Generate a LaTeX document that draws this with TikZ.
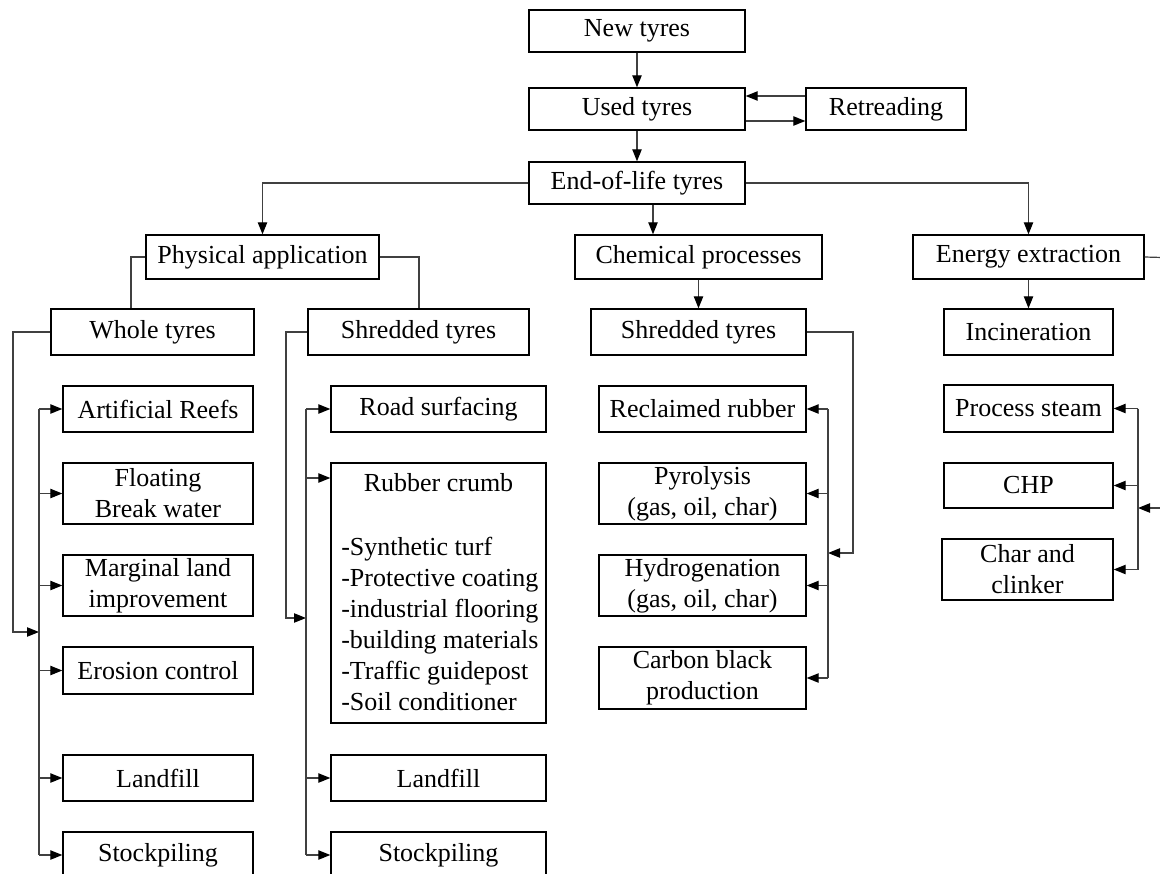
\documentclass[tikz,border=0pt]{standalone}
\usepackage{fontspec}
\setmainfont{Liberation Serif}
\usetikzlibrary{arrows.meta}
\tikzset{
  box/.style={draw=black, line width=1pt, inner sep=0pt, align=center, fill=white},
  conn/.style={draw=black!75, line width=0.9pt},
  arr/.style={conn, -{Triangle[length=9pt,width=7pt,color=black]}},
  txt/.style={inner sep=0pt, align=left}
}
\newcommand\bx[6]{\node[box, minimum width={(#4-#2)*0.75pt}, minimum height={(#5-#3)*0.75pt}] (#1) at ({(#2+#4)/2},{(#3+#5)/2}) {#6};}
\begin{document}
\begin{tikzpicture}[x=0.75pt,y=-0.75pt,font=\fontsize{19.5}{23.25}\selectfont]
\clip (0,0) rectangle (1160,874);
\fill[white] (0,0) rectangle (1160,874);
% top
\bx{new}{529}{10}{745}{52}{New tyres}
\bx{used}{529}{88}{745}{130}{Used tyres}
\bx{retr}{806}{88}{966}{130}{Retreading}
\bx{eol}{529}{162}{745}{204}{End-of-life tyres}
% level 2
\bx{pa}{146}{235}{379}{279}{Physical application}
\bx{chem}{575}{235}{822}{279}{Chemical processes}
\bx{en}{913}{235}{1144}{279}{Energy extraction}
% level 3
\bx{whole}{51}{309}{254}{355}{Whole tyres}
\bx{shp}{308}{309}{529}{355}{Shredded tyres}
\bx{shc}{591}{309}{806}{355}{Shredded tyres}
\bx{inc}{944}{309}{1113}{355}{Incineration}
% whole tyres column
\bx{ar}{63}{386}{253}{432}{Artificial Reefs}
\bx{fb}{63}{463}{253}{524}{Floating\\Break water}
\bx{ml}{63}{555}{253}{616}{Marginal land\\improvement}
\bx{ec}{63}{647}{253}{694}{Erosion control}
\bx{lf1}{63}{755}{253}{801}{Landfill}
\bx{sp1}{63}{832}{253}{878}{Stockpiling}
% shredded tyres (physical) column
\bx{rs}{331}{386}{546}{432}{Road surfacing}
\bx{rc}{331}{463}{546}{723}{}
\node[txt] (rct) at (438.5,483) {Rubber crumb};
\node[txt, anchor=west] (rcl) at (341,623.5) {-Synthetic turf\\-Protective coating\\-industrial flooring\\-building materials\\-Traffic guidepost\\-Soil conditioner};
\bx{lf2}{331}{755}{546}{801}{Landfill}
\bx{sp2}{331}{832}{546}{878}{Stockpiling}
% chemical column
\bx{rr}{599}{386}{806}{432}{Reclaimed rubber}
\bx{py}{599}{463}{806}{524}{Pyrolysis\\(gas, oil, char)}
\bx{hy}{599}{555}{806}{616}{Hydrogenation\\(gas, oil, char)}
\bx{cb}{599}{647}{806}{709}{Carbon black\\production}
% energy column
\bx{ps}{944}{385}{1113}{432}{Process steam}
\bx{chp}{944}{463}{1113}{508}{CHP}
\bx{cc}{942}{539}{1113}{600}{Char and\\clinker}
% coordinates
\coordinate (wb) at (39,632);
\coordinate (sb) at (306,618);
\coordinate (cbus) at (828,553);
\coordinate (ebus) at (1138,508);
\coordinate (eout) at (1180,258);
% top connectors
\draw[arr] (new.south) -- (used.north);
\draw[arr] (used.south) -- (eol.north);
\draw[arr] (retr.west |- 0,96) -- (used.east |- 0,96);
\draw[arr] (used.east |- 0,121) -- (retr.west |- 0,121);
\draw[arr] (eol.west) -| (pa.north);
\draw[arr] (eol.east) -| (en.north);
\draw[arr] (eol.south -| 653,0) -- (chem.north -| 653,0);
\draw[arr] (chem.south) -- (shc.north);
\draw[arr] (en.south) -- (inc.north);
\draw[conn] (pa.west) -| (whole.north -| 131,0);
\draw[conn] (pa.east) -| (shp.north -| 419,0);
% whole tyres bus
\draw[arr] (whole.west) -| (13,632) -- (wb);
\draw[conn] (39,409) -- (39,855);
\foreach \n in {ar,fb,ml,ec,lf1,sp1} \draw[arr] (\n.west -| wb) -- (\n.west);
% shredded physical bus
\draw[arr] (shp.west) -| (286,618) -- (sb);
\draw[conn] (306,409) -- (306,855);
\foreach \n in {rs,lf2,sp2} \draw[arr] (\n.west -| sb) -- (\n.west);
\draw[arr] (306,478) -- (rc.west |- 0,478);
% chemical bus
\draw[arr] (shc.east) -| (853,553) -- (cbus);
\draw[conn] (828,409) -- (828,678);
\foreach \n in {rr,py,hy,cb} \draw[arr] (\n.east -| cbus) -- (\n.east);
% energy bus
\draw[conn] (en.east) -- (eout);
\draw[arr] (1180,508) -- (ebus);
\draw[conn] (1138,408.5) -- (1138,569.5);
\foreach \n in {ps,chp,cc} \draw[arr] (\n.east -| ebus) -- (\n.east);
\end{tikzpicture}
\end{document}
